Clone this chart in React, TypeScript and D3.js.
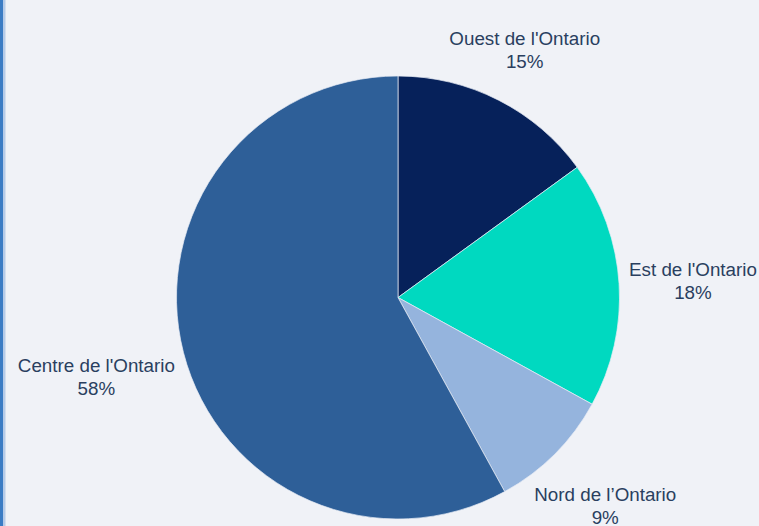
import React, { useEffect, useRef } from "react";
import * as d3 from "d3";

const categories = ["Ouest de l'Ontario", "Est de l'Ontario", "Nord de l’Ontario", "Centre de l'Ontario"];
const values = [15, 18, 9, 58];
const colors = ["#06215a", "#00d9c0", "#95b4dd", "#2e5f98"];

const W = 759;
const H = 526;

export default function App() {
  const ref = useRef<SVGSVGElement>(null);

  useEffect(() => {
    const svg = d3.select(ref.current);
    svg.selectAll("*").remove();

    svg.append("rect").attr("width", W).attr("height", H).attr("fill", "#f0f2f7");
    svg.append("rect").attr("x", 0).attr("y", 0).attr("width", 3).attr("height", H).attr("fill", "#3b7cc4");
    svg.append("rect").attr("x", 3).attr("y", 0).attr("width", 2.5).attr("height", H).attr("fill", "#b6cbe8");

    const cx = 398;
    const cy = 297.5;
    const r = 221.5;

    const pie = d3.pie<number>().sort(null).value((d) => d);
    const arcs = pie(values);
    const arc = d3.arc<d3.PieArcDatum<number>>().innerRadius(0).outerRadius(r);

    const g = svg.append("g").attr("transform", `translate(${cx},${cy})`);
    g.selectAll("path.slice")
      .data(arcs)
      .enter()
      .append("path")
      .attr("class", "slice")
      .attr("d", arc as any)
      .attr("fill", (_d, i) => colors[i])
      .attr("stroke", "#e8edf5")
      .attr("stroke-width", 0.7);

    const fontSize = 18.8;
    const lineH = 23;
    const total = d3.sum(values);

    arcs.forEach((a, i) => {
      const mid = (a.startAngle + a.endAngle) / 2;
      const sx = Math.sin(mid);
      const sy = -Math.cos(mid);
      const gap = 2 + 7 * Math.abs(sx);
      const t = g
        .append("text")
        .attr("text-anchor", "middle")
        .attr("font-family", "Liberation Sans, Arial, sans-serif")
        .attr("font-size", fontSize)
        .attr("fill", "#2a3f5f");
      t.append("tspan").attr("x", 0).attr("dy", 0).text(categories[i]);
      t.append("tspan")
        .attr("x", 0)
        .attr("dy", lineH)
        .text(`${Math.round((values[i] / total) * 100)}%`);
      const bb = (t.node() as SVGTextElement).getBBox();
      const hw = bb.width / 2;
      const hh = (lineH + fontSize * 0.95) / 2;
      const support = Math.abs(sx) * hw + Math.abs(sy) * hh;
      const d = r + gap + support;
      const bx = sx * d;
      const by = sy * d;
      const top = by - hh;
      const baseline = top + fontSize * 0.8 + 2;
      t.attr("transform", `translate(${bx},${baseline})`);
    });
  }, []);

  return (
    <div style={{ position: "absolute", left: 0, top: 0, width: W, height: H }}>
      <svg ref={ref} width={W} height={H} style={{ display: "block" }} />
    </div>
  );
}
